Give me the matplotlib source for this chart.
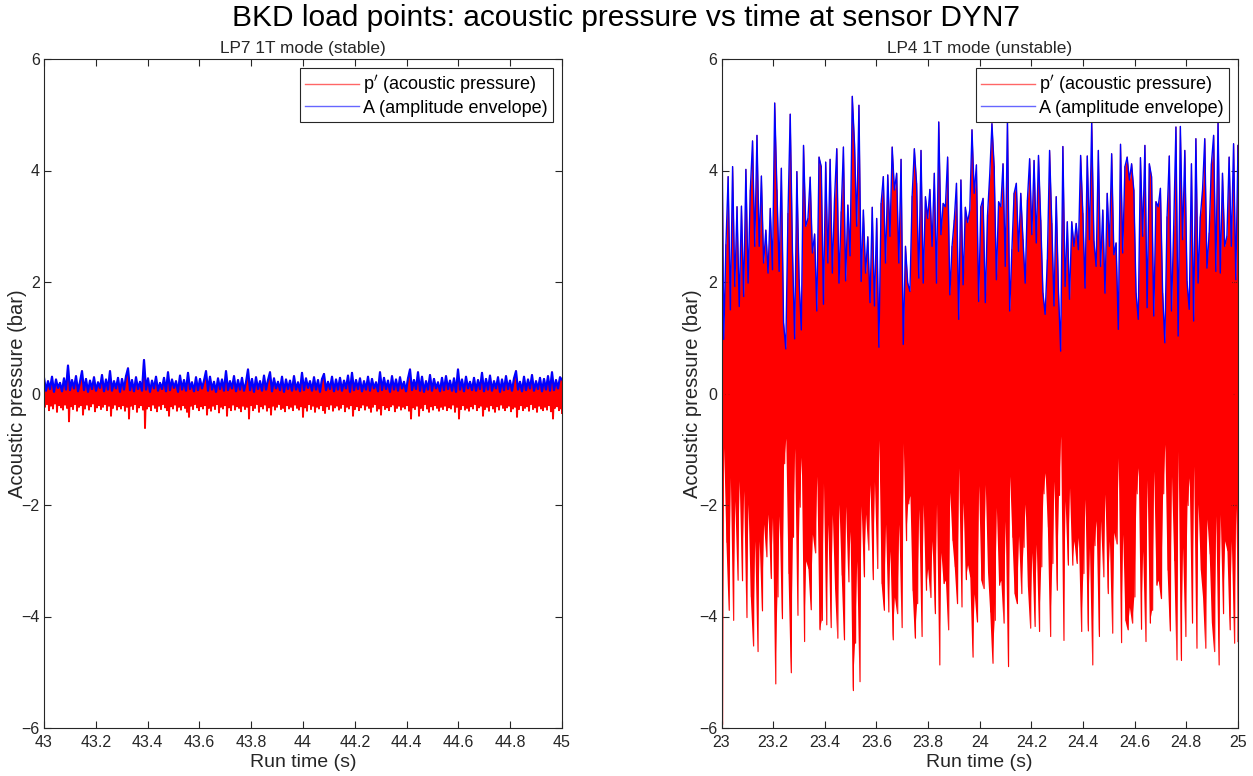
import numpy as np
import matplotlib
matplotlib.use("Agg")
import matplotlib.pyplot as plt
from matplotlib.ticker import FormatStrFormatter

plt.rcParams['font.family'] = ['Liberation Sans', 'DejaVu Sans']

# LP7 (stable): amplitude envelope samples, 43 s .. 45 s
amp_lp7 = [
    0.28, 0.05, 0.22, 0.08, 0.30, 0.03, 0.25, 0.10, 0.19, 0.04, 0.27, 0.07, 0.50, 0.06, 0.24, 0.09, 0.31, 0.04, 0.21, 0.40,
    0.06, 0.26, 0.03, 0.23, 0.08, 0.29, 0.05, 0.20, 0.10, 0.33, 0.04, 0.25, 0.07, 0.40, 0.05, 0.22, 0.09, 0.28, 0.03, 0.26,
    0.07, 0.31, 0.45, 0.06, 0.24, 0.04, 0.29, 0.08, 0.21, 0.05, 0.60, 0.07, 0.27, 0.03, 0.23, 0.09, 0.30, 0.05, 0.19, 0.08,
    0.28, 0.04, 0.38, 0.06, 0.25, 0.10, 0.22, 0.03, 0.32, 0.07, 0.24, 0.05, 0.37, 0.08, 0.20, 0.04, 0.29, 0.06, 0.26, 0.09,
    0.23, 0.40, 0.05, 0.30, 0.07, 0.21, 0.03, 0.27, 0.08, 0.25, 0.05, 0.40, 0.06, 0.22, 0.09, 0.31, 0.04, 0.24, 0.07, 0.28,
    0.05, 0.20, 0.43, 0.06, 0.26, 0.03, 0.29, 0.08, 0.22, 0.05, 0.32, 0.07, 0.24, 0.38, 0.04, 0.27, 0.09, 0.21, 0.06, 0.30,
    0.03, 0.25, 0.08, 0.23, 0.05, 0.31, 0.07, 0.20, 0.04, 0.37, 0.06, 0.27, 0.10, 0.22, 0.05, 0.29, 0.07, 0.24, 0.03, 0.26,
    0.35, 0.06, 0.21, 0.08, 0.30, 0.04, 0.25, 0.07, 0.28, 0.05, 0.23, 0.09, 0.32, 0.03, 0.37, 0.06, 0.24, 0.08, 0.27, 0.04,
    0.22, 0.07, 0.30, 0.05, 0.26, 0.09, 0.20, 0.04, 0.38, 0.06, 0.28, 0.08, 0.23, 0.03, 0.31, 0.07, 0.25, 0.05, 0.29, 0.09,
    0.21, 0.04, 0.27, 0.43, 0.06, 0.24, 0.08, 0.38, 0.05, 0.30, 0.03, 0.22, 0.07, 0.33, 0.05, 0.26, 0.09, 0.20, 0.04, 0.28,
    0.06, 0.31, 0.08, 0.23, 0.05, 0.27, 0.03, 0.43, 0.07, 0.25, 0.04, 0.30, 0.09, 0.21, 0.06, 0.28, 0.05, 0.24, 0.08, 0.37,
    0.04, 0.26, 0.07, 0.32, 0.05, 0.22, 0.09, 0.29, 0.03, 0.25, 0.06, 0.31, 0.08, 0.23, 0.05, 0.27, 0.40, 0.07, 0.21, 0.04,
    0.30, 0.06, 0.25, 0.09, 0.33, 0.05, 0.22, 0.08, 0.28, 0.04, 0.26, 0.07, 0.31, 0.05, 0.38, 0.06, 0.24, 0.09, 0.29, 0.25,
]

# LP7 (stable): acoustic pressure minima between envelope samples
trough_lp7 = [
    -0.24, -0.19, -0.30, -0.22, -0.27, -0.18, -0.33, -0.21, -0.25, -0.29, -0.20, -0.26, -0.50, -0.23, -0.28, -0.19, -0.31, -0.24, -0.21, -0.38,
    -0.27, -0.20, -0.29, -0.23, -0.18, -0.32, -0.25, -0.21, -0.28, -0.24, -0.19, -0.30, -0.22, -0.40, -0.26, -0.20, -0.29, -0.23, -0.27, -0.21,
    -0.31, -0.24, -0.45, -0.22, -0.28, -0.19, -0.33, -0.25, -0.21, -0.29, -0.62, -0.27, -0.23, -0.30, -0.20, -0.26, -0.32, -0.22, -0.28, -0.19,
    -0.25, -0.30, -0.40, -0.23, -0.27, -0.20, -0.31, -0.24, -0.29, -0.21, -0.26, -0.33, -0.42, -0.22, -0.28, -0.19, -0.25, -0.30, -0.23, -0.27,
    -0.21, -0.38, -0.26, -0.31, -0.22, -0.28, -0.19, -0.34, -0.24, -0.27, -0.21, -0.40, -0.25, -0.30, -0.20, -0.29, -0.23, -0.26, -0.32, -0.22,
    -0.28, -0.24, -0.45, -0.21, -0.30, -0.26, -0.19, -0.33, -0.23, -0.27, -0.20, -0.31, -0.25, -0.38, -0.22, -0.29, -0.24, -0.19, -0.28, -0.26,
    -0.32, -0.21, -0.27, -0.24, -0.30, -0.20, -0.26, -0.29, -0.23, -0.42, -0.25, -0.31, -0.19, -0.28, -0.22, -0.33, -0.24, -0.27, -0.21, -0.30,
    -0.35, -0.23, -0.28, -0.20, -0.31, -0.25, -0.22, -0.29, -0.26, -0.19, -0.32, -0.24, -0.27, -0.21, -0.40, -0.28, -0.23, -0.30, -0.25, -0.20,
    -0.29, -0.22, -0.26, -0.33, -0.24, -0.19, -0.31, -0.27, -0.38, -0.21, -0.28, -0.25, -0.30, -0.23, -0.20, -0.32, -0.26, -0.22, -0.29, -0.24,
    -0.27, -0.21, -0.31, -0.45, -0.25, -0.28, -0.22, -0.40, -0.26, -0.30, -0.19, -0.27, -0.33, -0.23, -0.29, -0.21, -0.26, -0.31, -0.24, -0.28,
    -0.22, -0.30, -0.25, -0.27, -0.20, -0.33, -0.24, -0.45, -0.28, -0.21, -0.29, -0.26, -0.31, -0.23, -0.27, -0.19, -0.30, -0.25, -0.22, -0.40,
    -0.28, -0.24, -0.31, -0.21, -0.27, -0.33, -0.23, -0.29, -0.20, -0.26, -0.30, -0.25, -0.22, -0.32, -0.27, -0.24, -0.42, -0.28, -0.21, -0.30,
    -0.26, -0.23, -0.31, -0.19, -0.28, -0.25, -0.33, -0.22, -0.27, -0.30, -0.24, -0.29, -0.21, -0.32, -0.45, -0.26, -0.23, -0.30, -0.27, -0.35,
]

# LP4 (unstable): amplitude envelope samples, 23 s .. 25 s
amp_lp4 = [
    5.94, 0.97, 2.67, 3.89, 1.50, 4.07, 1.92, 3.35, 1.56, 3.36, 1.74, 4.02, 1.98, 3.65, 4.53, 2.64, 4.63, 2.64, 3.90, 2.34,
    2.93, 2.16, 3.32, 2.22, 5.21, 3.65, 2.19, 4.04, 1.26, 0.80, 3.23, 5.01, 2.58, 0.98, 3.98, 2.04, 1.14, 4.45, 3.00, 3.14,
    3.88, 2.52, 2.86, 1.48, 4.24, 4.07, 1.60, 4.15, 2.34, 4.20, 2.16, 3.50, 4.39, 1.98, 3.26, 4.42, 2.02, 3.38, 2.47, 5.33,
    4.48, 3.00, 5.17, 2.01, 3.29, 2.16, 2.81, 1.63, 3.34, 1.57, 3.14, 0.83, 3.41,
    3.89, 2.34, 3.92, 2.82, 4.42, 3.65, 3.95, 2.34, 4.20, 0.88, 2.64, 1.98, 1.83, 3.54, 4.39, 3.77, 2.07, 4.36, 1.98, 3.53,
    3.14, 3.66, 2.64, 3.95, 1.98, 4.87, 2.85, 3.41, 3.35, 4.24, 1.77, 2.64, 3.11, 3.77, 1.33, 3.83, 1.95, 3.34, 3.07, 3.29,
    4.73, 3.59, 4.10, 1.65, 3.35, 3.50, 1.63, 3.20, 3.92, 4.84, 4.07, 2.04, 3.44, 3.35, 4.12, 2.28, 4.90, 1.48, 2.58, 3.59,
    3.77, 2.55, 3.59, 2.76, 1.98, 3.47, 4.21, 2.85, 4.18, 2.70, 4.27, 3.11, 1.80, 1.42, 2.40, 4.36, 3.05, 1.57, 3.53,
    1.83, 0.76, 4.43, 1.92, 3.08, 1.69, 3.08, 2.64, 3.05, 2.58, 4.27, 3.23, 1.89, 4.26, 2.76, 4.87, 2.73, 2.28, 4.36, 2.28,
    3.29, 1.80, 3.59, 2.64, 4.30, 2.49, 2.70, 1.15, 4.47, 2.52, 4.07, 4.24, 3.83, 4.12, 3.65, 1.80, 1.33, 4.23, 2.82, 4.45,
    1.54, 4.12, 3.89, 1.39, 3.44, 3.35, 3.68, 1.80, 0.91, 3.17, 4.26, 1.48, 3.00, 4.78, 1.03, 4.79, 2.76, 4.36, 2.01, 1.51,
    4.12, 1.30, 4.57, 1.98, 3.17, 3.65, 4.57, 2.25, 2.88, 4.12, 4.63, 2.19, 4.87, 2.16, 3.95, 2.64, 2.82, 4.24, 2.64, 4.48,
    2.04, 4.45,
]

# LP4 (unstable): pressure swings symmetrically between +A and -A
trough_lp4 = [-v for v in amp_lp4]

panels = [
    dict(amp=amp_lp7, trough=trough_lp7, t0=43.0, t1=45.0,
         title="LP7 1T mode (stable)", lw_p=1.4, lw_a=1.6, sweep=False),
    dict(amp=amp_lp4, trough=trough_lp4, t0=23.0, t1=25.0,
         title="LP4 1T mode (unstable)", lw_p=0.8, lw_a=1.0, sweep=True),
]

RED = (1, 0, 0)
BLUE = (0, 0, 1)
INK = "#262626"

W, H = 1253.0, 776.0
fig = plt.figure(figsize=(12.53, 7.76), dpi=100)
fig.text(0.5, 1 - 18 / H, "BKD load points: acoustic pressure vs time at sensor DYN7",
         fontsize=21.5, ha="center", va="center")

# axes boxes in pixels: left, top, width, height; plus y-label right edge
boxes = [(44, 59, 518, 669, 27), (721.5, 59, 516.5, 669, 702)]

for p, (x0, y0, w, h, ylab_x) in zip(panels, boxes):
    ax = fig.add_axes([x0 / W, 1 - (y0 + h) / H, w / W, h / H])
    a = np.asarray(p["amp"], dtype=float)
    lo = np.asarray(p["trough"], dtype=float)
    n = len(a)
    t_a = np.linspace(p["t0"], p["t1"], n)
    dt = t_a[1] - t_a[0]
    # pressure trace: crests on the envelope samples, troughs half a sample later
    t_p = np.empty(2 * n)
    t_p[0::2] = t_a
    t_p[1::2] = np.minimum(t_a + dt / 2, p["t1"])
    p_sig = np.empty(2 * n)
    p_sig[0::2] = a
    p_sig[1::2] = lo
    if p["sweep"]:
        # region swept by the fast oscillation
        ax.fill_between(t_a, lo, a, color=RED, lw=0)
    ax.plot(t_p, p_sig, color=RED, lw=p["lw_p"], label="p$'$ (acoustic pressure)")
    ax.plot(t_a, a, color=BLUE, lw=p["lw_a"], label="A (amplitude envelope)")

    ax.set_xlim(p["t0"], p["t1"])
    ax.set_ylim(-6, 6)
    ax.set_xticks(np.round(np.arange(p["t0"], p["t1"] + 0.01, 0.2), 1))
    ax.xaxis.set_major_formatter(FormatStrFormatter("%g"))
    ax.set_yticks(np.arange(-6, 7, 2))
    ax.tick_params(direction="in", top=True, right=True, labelsize=11.5,
                   length=5, width=0.8, color=INK, labelcolor=INK)
    ax.tick_params(axis="x", pad=5)
    ax.tick_params(axis="y", pad=3)
    for s in ax.spines.values():
        s.set_color(INK)
        s.set_linewidth(0.8)
    ax.set_title(p["title"], fontsize=12.4, pad=4, color=INK)
    ax.set_xlabel("Run time (s)", fontsize=14, labelpad=3, color=INK)
    ax.set_ylabel("Acoustic pressure (bar)", fontsize=14.5, color=INK)
    ax.yaxis.set_label_coords((ylab_x - x0) / w, 0.5)
    leg = ax.legend(loc="upper right", fontsize=13, fancybox=False, framealpha=1,
                    edgecolor=INK, handlelength=3.0, borderaxespad=0.5,
                    handletextpad=0.2, borderpad=0.3, labelspacing=0.18)
    leg.get_frame().set_linewidth(0.8)
    for line in leg.get_lines():
        line.set_linewidth(1.0)
        line.set_alpha(0.6)

fig.savefig("out.png", dpi=100)
